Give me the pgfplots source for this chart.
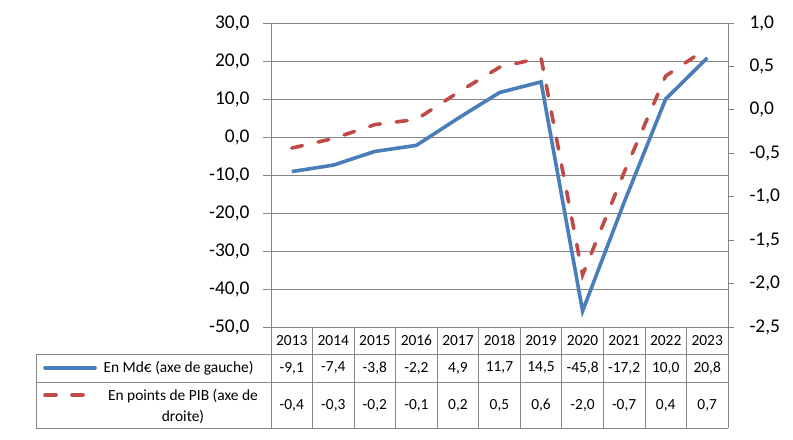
\documentclass[border=0pt]{standalone}
\usepackage{fontspec}
\setmainfont{Carlito}
\usepackage{pgfplots}
\usepackage{pgfplotstable}
\pgfplotsset{compat=1.18}

\definecolor{mdblue}{HTML}{4A7EBB}
\definecolor{pibred}{HTML}{BE4B48}
\definecolor{gridgray}{HTML}{868686}

% x: position, md: Md EUR (left axis), pib: table value, pibplot: plotted value
\pgfplotstableread{
x year md    pib  pibplot
0 2013 -9.1  -0.4 -0.44
1 2014 -7.4  -0.3 -0.33
2 2015 -3.8  -0.2 -0.17
3 2016 -2.2  -0.1 -0.11
4 2017 4.9   0.2  0.20
5 2018 11.7  0.5  0.49
6 2019 14.5  0.6  0.60
7 2020 -45.8 -2.0 -1.90
8 2021 -17.2 -0.7 -0.72
9 2022 10.0  0.4  0.39
10 2023 20.8 0.7  0.71
}\data

\pgfplotsset{
  common/.style={
    scale only axis, width=457bp, height=304bp,
    at={(0,0)}, anchor=south west,
    xmin=-0.5, xmax=10.5,
    tick align=outside,
    axis line style={gridgray, line width=0.8bp},
    ytick style={gridgray, line width=0.8bp},
    yticklabel style={font=\fontsize{19.5}{22}\selectfont, text=black,
      /pgf/number format/fixed, /pgf/number format/fixed zerofill,
      /pgf/number format/precision=1, /pgf/number format/use comma,
      /pgf/number format/assume math mode=true},
  },
}

\begin{document}
\begin{tikzpicture}
\path[use as bounding box] (-271bp,-113bp) rectangle (522bp,327bp);

\begin{axis}[common,
  ymin=-50, ymax=30, ytick={-50,-40,...,30},
  xtick=\empty, ytick pos=left, major tick length=8bp,
  ymajorgrids, grid style={gridgray, line width=0.8bp},
  yticklabel style={xshift=-10bp},
]
\addplot[mdblue, line width=3.6bp] table[x=x, y=md] {\data};
\end{axis}

\begin{axis}[common,
  ymin=-2.5, ymax=1, ytick={-2.5,-2,-1.5,-1,-0.5,0,0.5,1},
  axis x line=none, axis y line*=right, major tick length=6bp,
  yticklabel style={xshift=12bp},
]
\addplot[pibred, line width=3.6bp, line cap=round, dash pattern=on 11bp off 16bp]
  table[x=x, y=pibplot] {\data};
\end{axis}

% data table under the chart
\begin{axis}[scale only axis, width=457bp, height=101bp,
  at={(0,-101bp)}, anchor=south west,
  xmin=-0.5, xmax=10.5, ymin=-101, ymax=0, hide axis, clip=false,
  nodes near coords style={anchor=center, text=black,
    font=\fontsize{15.5}{18}\selectfont},
]
\addplot[only marks, mark=none, nodes near coords, point meta=explicit symbolic]
  table[x=x, y expr=-13.5, meta=year] {\data};
\addplot[only marks, mark=none, point meta=explicit,
  nodes near coords={\pgfmathprintnumber[fixed, fixed zerofill, precision=1,
    use comma, assume math mode=true]{\pgfplotspointmeta}}]
  table[x=x, y expr=-41, meta=md] {\data};
\addplot[only marks, mark=none, point meta=explicit,
  nodes near coords={\pgfmathprintnumber[fixed, fixed zerofill, precision=1,
    use comma, assume math mode=true]{\pgfplotspointmeta}}]
  table[x=x, y expr=-78, meta=pib] {\data};
\end{axis}

\begin{scope}[gridgray, line width=0.8bp]
  \draw (-235bp,-27bp) -- (457bp,-27bp);
  \draw (-235bp,-55bp) -- (457bp,-55bp);
  \draw (-235bp,-101bp) -- (457bp,-101bp);
  \draw (-235bp,-27bp) -- (-235bp,-101bp);
  \draw (0,0) -- (0,-101bp);
  \foreach \k in {1,...,11} \draw ({\k*41.545bp},0) -- ({\k*41.545bp},-101bp);
\end{scope}

\draw[mdblue, line width=3.6bp, line cap=round] (-226bp,-41bp) -- (-176bp,-41bp);
\draw[pibred, line width=3.6bp, line cap=round, dash pattern=on 11bp off 16bp]
  (-226bp,-68bp) -- (-188bp,-68bp);
\node[anchor=west, font=\fontsize{15.5}{18}\selectfont] at (-171bp,-41bp)
  {En Md€ (axe de gauche)};
\node[align=center, font=\fontsize{15.5}{21}\selectfont] at (-88bp,-79bp)
  {En points de PIB (axe de\\droite)};
\end{tikzpicture}
\end{document}
